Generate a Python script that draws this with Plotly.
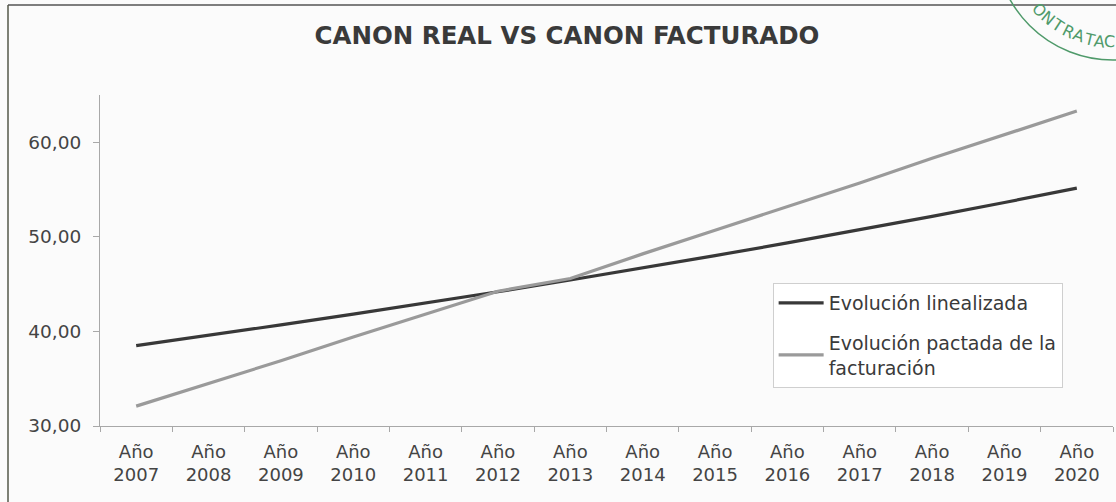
import math
import plotly.graph_objects as go

# ---- data ----
years = ["2007", "2008", "2009", "2010", "2011", "2012", "2013",
         "2014", "2015", "2016", "2017", "2018", "2019", "2020"]
categories = ["Año<br>" + y for y in years]
evolucion_linealizada = [38.50, 39.58, 40.69, 41.83, 43.00, 44.20, 45.44,
                         46.71, 48.02, 49.36, 50.75, 52.17, 53.63, 55.15]
evolucion_pactada = [32.10, 34.50, 36.90, 39.40, 41.80, 44.25, 45.60,
                     48.20, 50.70, 53.20, 55.70, 58.30, 60.80, 63.30]
y_ticks = [30, 40, 50, 60]
series_names = ["Evolución linealizada", "Evolución pactada de la<br>facturación"]
title_text = "CANON REAL VS CANON FACTURADO"
stamp_text = "ONTRATAC"

FONT = "DejaVu Sans"
W, H = 1116, 502
ML, MR, MT, MB = 100, 3, 95, 76
PW, PH = W - ML - MR, H - MT - MB

fig = go.Figure()
fig.add_trace(go.Scatter(x=categories, y=evolucion_linealizada, mode="lines",
                         name=series_names[0], legendgroup="a",
                         line=dict(color="#383838", width=3.2)))
fig.add_trace(go.Scatter(x=categories, y=evolucion_pactada, mode="lines",
                         name=series_names[1], legendgroup="b",
                         line=dict(color="#9a9a9a", width=3.2)))


def px_to_paper(px, py):
    return (px - ML) / PW, (H - MB - py) / PH


shapes = []
# outer frame (top and left edges of the scanned frame)
x0, y0 = px_to_paper(8, 5)
x1, _ = px_to_paper(1116, 5)
_, yb = px_to_paper(8, 502)
shapes.append(dict(type="line", xref="paper", yref="paper", x0=x0, y0=y0, x1=x1, y1=y0,
                   line=dict(color="#555555", width=1.5)))
shapes.append(dict(type="line", xref="paper", yref="paper", x0=x0, y0=y0, x1=x0, y1=yb,
                   line=dict(color="#55584a", width=1.5)))
# stamp circle (partially visible in top-right corner)
cx, cy, r = 1113, -58, 118
cx0, cy0 = px_to_paper(cx - r, cy + r)
cx1, cy1 = px_to_paper(cx + r, cy - r)
shapes.append(dict(type="circle", xref="paper", yref="paper", x0=cx0, y0=cy0, x1=cx1, y1=cy1,
                   line=dict(color="#4f9a6a", width=1.5), layer="above"))

annotations = []
# stamp letters along the arc
rt = 100
angles = [137, 130.2, 123.4, 116.6, 110, 103.6, 97.6, 92]
for ch, a in zip(stamp_text, angles):
    ar = math.radians(a)
    lx = cx + rt * math.cos(ar)
    ly = cy + rt * math.sin(ar)
    ax, ay = px_to_paper(lx, ly)
    annotations.append(dict(text=ch, x=ax, y=ay, xref="paper", yref="paper",
                            showarrow=False, textangle=a - 90,
                            font=dict(family=FONT, size=16, color="#4f9a6a"),
                            xanchor="center", yanchor="middle"))

fig.update_layout(
    width=W, height=H,
    margin=dict(l=ML, r=MR, t=MT, b=MB),
    paper_bgcolor="#fbfbfb", plot_bgcolor="#fbfbfb",
    separators=",.",
    title=dict(text="<b>" + title_text + "</b>", x=0.508, y=0.930,
               xanchor="center", yanchor="middle",
               font=dict(family=FONT, size=24.5, color="#3a3a3a")),
    xaxis=dict(type="category", range=[-0.5, 13.5], showgrid=False, zeroline=False,
               showline=True, linecolor="#a8a8a8", linewidth=1.2,
               ticks="outside", tickson="boundaries", ticklen=5, tickcolor="#a8a8a8",
               ticklabelstandoff=9,
               tickfont=dict(family=FONT, size=18, color="#444444")),
    yaxis=dict(range=[30, 65], tickvals=y_ticks, tickformat=".2f", showgrid=False,
               zeroline=False, showline=True, linecolor="#a8a8a8", linewidth=1.2,
               ticks="outside", ticklen=6, tickcolor="#a8a8a8",
               ticklabelstandoff=8,
               tickfont=dict(family=FONT, size=18.5, color="#444444")),
    legend=dict(x=0.664, y=0.432, xanchor="left", yanchor="top",
                bgcolor="#ffffff", bordercolor="#cfcfcf", borderwidth=1,
                font=dict(family=FONT, size=19, color="#3a3a3a"),
                itemwidth=45,
                traceorder="grouped", tracegroupgap=12),
    showlegend=True,
    shapes=shapes,
    annotations=annotations,
)

fig.write_html("out.html",
               config={"displayModeBar": False},
               post_script="document.body.style.margin='0px';document.body.style.overflow='hidden';")
